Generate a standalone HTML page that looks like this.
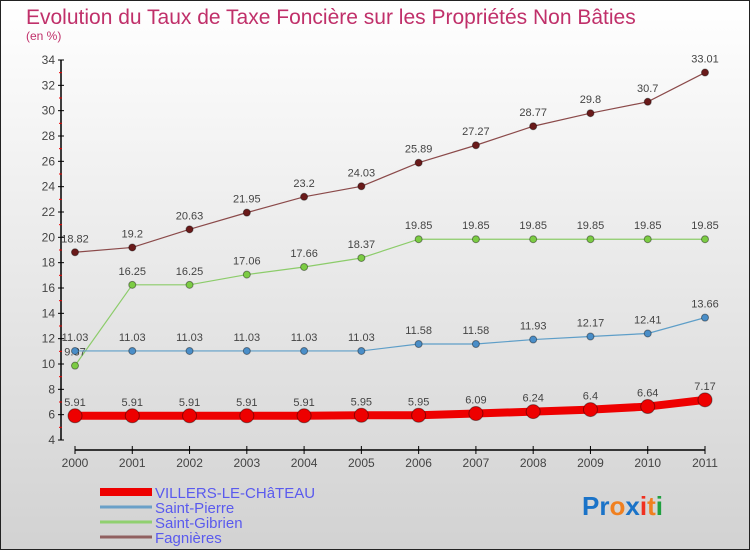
<!DOCTYPE html>
<html><head><meta charset="utf-8"><style>
html,body{margin:0;padding:0}
body{width:750px;height:550px;overflow:hidden;font-family:"Liberation Sans",sans-serif}
#wrap{position:absolute;left:0;top:0;width:748px;height:548px;border:1px solid #222;background:linear-gradient(#ffffff,#d2d2d2)}
text{font-family:"Liberation Sans",sans-serif}
</style></head><body>
<div id="wrap">
<svg id="chart" width="750" height="550" style="position:absolute;left:-1px;top:-1px">
<text x="26" y="24" font-size="21" fill="#c0306a">Evolution du Taux de Taxe Foncière sur les Propriétés Non Bâties</text>
<text x="26" y="40" font-size="12" fill="#c0306a">(en %)</text>
<g id="axes"></g><g id="series"></g><g id="legend"></g>
<text x="582" y="515" font-size="26" font-weight="bold"><tspan fill="#1a73c8">Pr</tspan><tspan fill="#f08020">o</tspan><tspan fill="#1a73c8">x</tspan><tspan fill="#f03020">i</tspan><tspan fill="#f08020">t</tspan><tspan fill="#20a040">i</tspan></text>
</svg></div>
<script>
const years=[2000,2001,2002,2003,2004,2005,2006,2007,2008,2009,2010,2011];
const yTicks=[4,6,8,10,12,14,16,18,20,22,24,26,28,30,32,34];
const villers=[5.91,5.91,5.91,5.91,5.91,5.95,5.95,6.09,6.24,6.4,6.64,7.17];
const saintPierre=[11.03,11.03,11.03,11.03,11.03,11.03,11.58,11.58,11.93,12.17,12.41,13.66];
const saintGibrien=[9.87,16.25,16.25,17.06,17.66,18.37,19.85,19.85,19.85,19.85,19.85,19.85];
const fagnieres=[18.82,19.2,20.63,21.95,23.2,24.03,25.89,27.27,28.77,29.8,30.7,33.01];
const NS="http://www.w3.org/2000/svg";
const xs=i=>75+i*(705-75)/(years.length-1);
const ys=v=>440-(v-4)*(440-60)/30;
function el(tag,attrs,parent){const e=document.createElementNS(NS,tag);for(const k in attrs)e.setAttribute(k,attrs[k]);parent.appendChild(e);return e;}
const axes=document.getElementById('axes');
let a=el('line',{x1:61,y1:60,x2:61,y2:440,stroke:'#000','stroke-width':1.5},axes);


yTicks.forEach(t=>{
 const y=ys(t);
 el('line',{x1:58,y1:y,x2:64,y2:y,stroke:'#000'},axes);
 if(t<34) el('line',{x1:59,y1:ys(t+1),x2:62,y2:ys(t+1),stroke:'#e00'},axes);
 const tx=el('text',{x:55,y:y+4,'font-size':12,'text-anchor':'end',fill:'#444'},axes);
 tx.textContent=t;
 
 
});
a=el('line',{x1:75,y1:450,x2:705,y2:450,stroke:'#000','stroke-width':1.5},axes);


years.forEach((yr,i)=>{
 const x=xs(i);
 el('line',{x1:x,y1:446,x2:x,y2:454,stroke:'#000'},axes);
 const tx=el('text',{x:x,y:467,'font-size':12,'text-anchor':'middle',fill:'#444'},axes);
 tx.textContent=yr;
 
 
});
const S=document.getElementById('series');
function series(vals,color,dot,w,r,name){
 const g=el('g',{},S);
 
 
 const pl=el('polyline',{points:vals.map((v,i)=>xs(i)+','+ys(v)).join(' '),fill:'none',stroke:color,'stroke-width':w},g);
 
 
 vals.forEach((v,i)=>{
  const c=el('circle',{cx:xs(i),cy:ys(v),r:r,fill:dot,stroke:'rgba(0,0,0,0.4)','stroke-width':1},g);
  
  
  const t=el('text',{x:xs(i),y:ys(v)-10,'font-size':11,'text-anchor':'middle',fill:'#444'},g);
  t.textContent=v;
  
  
 });
}
series(fagnieres,'#8b4a4a','#6a1a1a',1.2,3.5,'fagnieres');
series(saintGibrien,'#8ccc6a','#7ccc44',1.2,3.5,'saint-gibrien');
series(saintPierre,'#5e9ec8','#4a8ec8',1.2,3.5,'saint-pierre');
series(villers,'#ee0000','#ee0000',8,7,'villers-le-chateau');
const L=document.getElementById('legend');
const leg=[['VILLERS-LE-CHâTEAU','#ee0000',8],['Saint-Pierre','#6aa0c8',3],['Saint-Gibrien','#90d070',3],['Fagnières','#906060',3]];
leg.forEach((d,i)=>{
 const y=492+i*15;
 const g=el('g',{},L);
 
 
 el('line',{x1:100,y1:y,x2:152,y2:y,stroke:d[1],'stroke-width':d[2]},g);
 const t=el('text',{x:155,y:y+6,'font-size':15,fill:'#5a5aee'},g);
 t.textContent=d[0];
});
</script>
</body></html>
